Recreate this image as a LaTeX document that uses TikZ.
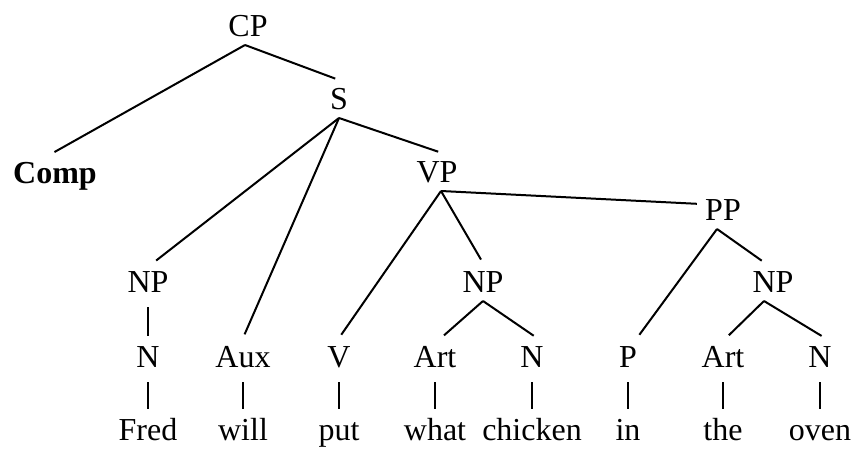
\documentclass[tikz,border=0pt]{standalone}
\usepackage{fontspec}
\setmainfont{Liberation Serif}
\begin{document}
\begin{tikzpicture}[x=0.5pt,y=-0.5pt,
  cat/.style={inner xsep=2pt,inner ysep=4pt,text height=10.6pt,text depth=0pt,font=\fontsize{16}{19}\selectfont},
  branch/.style={line width=1pt,shorten >=2pt},
  bar/.style={line width=0.6pt,shorten <=3pt,shorten >=1pt}]
  \useasboundingbox (0,0) rectangle (856,449);
  % Phrase nodes
  \node[cat] (cp) at (248,26) {CP};
  \node[cat,font=\fontsize{16}{19}\selectfont\bfseries] (comp) at (55,173) {Comp};
  \node[cat] (s) at (339,99) {S};
  \node[cat] (vp) at (437,172) {VP};
  \node[cat] (pp) at (723,210) {PP};
  \node[cat] (npA) at (148,282) {NP};
  \node[cat] (npB) at (483,282) {NP};
  \node[cat] (npC) at (773,282) {NP};
  % Word classes
  \foreach \x/\name/\txt in {148/nA/N, 243/aux/Aux, 339/v/V, 435/artA/Art, 532/nB/N, 628/p/P, 723/artB/Art, 820/nC/N}
  {\node[cat] (\name) at (\x,357) {\txt};}
  % Words
  \foreach \x/\name/\txt in {148/fred/Fred, 243/will/will, 339/put/put, 435/what/what, 532/chicken/chicken, 628/in/in, 723/the/the, 820/oven/oven}
  {\node[cat] (\name) at (\x,430) {\txt};}
  % Branches
  \draw[branch] ([xshift=-1.5pt]cp.south) -- ([xshift=-2pt]comp.north);
  \draw[branch] ([xshift=-1.5pt]cp.south) -- (s.north);
  \draw[branch] (s.south) -- ([xshift=2.5pt]npA.north);
  \draw[branch] (s.south) -- (aux.north);
  \draw[branch] (s.south) -- ([xshift=2.5pt]vp.north);
  \draw[branch] ([xshift=2pt]vp.south) -- (v.north);
  \draw[branch] ([xshift=2pt]vp.south) -- (npB.north);
  \draw[branch] ([xshift=2pt]vp.south) -- ([yshift=3pt]pp.west);
  \draw[branch] ([xshift=-3pt]pp.south) -- ([xshift=4.5pt]p.north);
  \draw[branch] ([xshift=-3pt]pp.south) -- ([xshift=-4pt]npC.north);
  \draw[branch] (npB.south) -- ([xshift=3pt]artA.north);
  \draw[branch] (npB.south) -- ([xshift=2.5pt]nB.north);
  \draw[branch] ([xshift=-4.5pt]npC.south) -- ([xshift=1.5pt]artB.north);
  \draw[branch] ([xshift=-4.5pt]npC.south) -- ([xshift=2.5pt]nC.north);
  % Unary bars
  \draw[bar] (npA.south) -- (nA.north);
  \foreach \a/\b in {nA/fred, aux/will, v/put, artA/what, nB/chicken, p/in, artB/the, nC/oven}
  {\draw[bar] (\a.south) -- (\b.north);}
\end{tikzpicture}
\end{document}
